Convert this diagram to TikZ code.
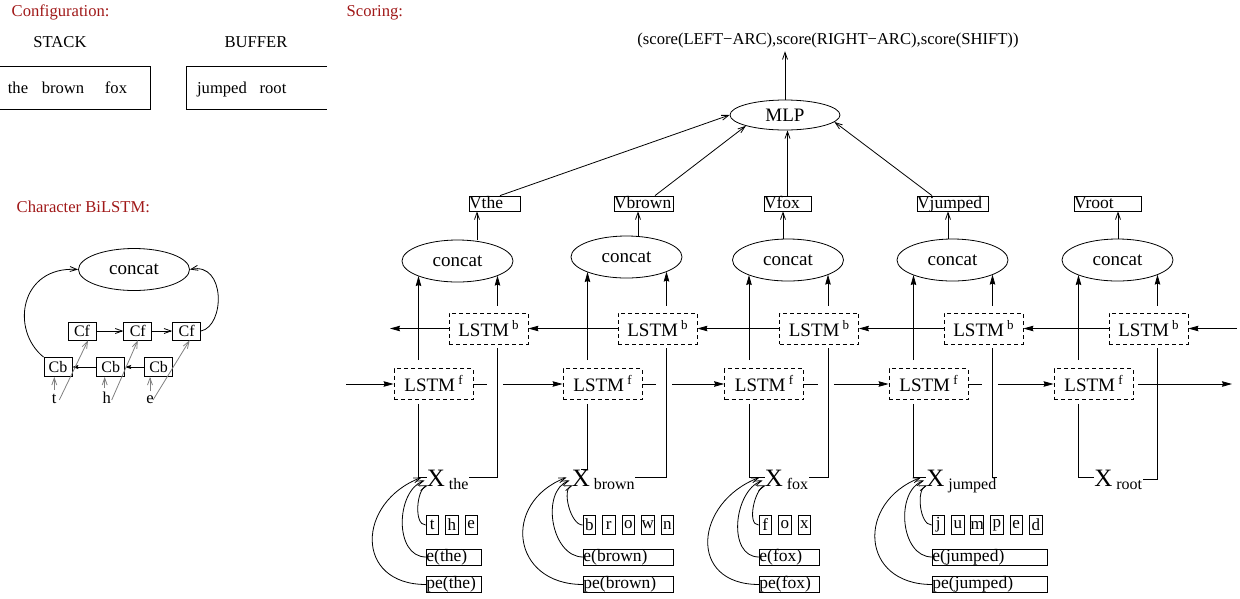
\documentclass[tikz,border=0pt]{standalone}
\usepackage{fontspec}
\setmainfont{Liberation Serif}
\usepackage{xcolor}
\usepackage{tikz}
\usetikzlibrary{arrows.meta,positioning,shapes,calc}
\definecolor{titlered}{RGB}{160,24,24}
\newcommand\fsmall{\fontsize{16.6}{19}\selectfont}
\newcommand\fword{\fontsize{17.5}{20}\selectfont}
\newcommand\fbig{\fontsize{19}{22}\selectfont}
\newcommand\fx{\fontsize{25}{25}\selectfont}
\newcommand\fsub{\fontsize{16}{18}\selectfont}
\newcommand\fsup{\fontsize{13}{14}\selectfont}
\newcommand\lstm[1]{LSTM\,\raisebox{7pt}{\fsup #1}}

\begin{document}
\begin{tikzpicture}[x=1pt,y=-1pt,line width=0.8pt,
  every node/.style={font=\fsmall},
  concat/.style={ellipse,draw,minimum width=111pt,minimum height=42pt,inner sep=0,font=\fbig},
  lstm/.style={rectangle,draw,dash pattern=on 4pt off 3pt,minimum width=79pt,minimum height=31pt,
               inner sep=0,font=\fbig},
  vbox/.style={rectangle,draw,minimum height=15pt,inner sep=0,text height=11.5pt,text depth=2pt,
               align=left,font=\fword},
  wbox/.style={rectangle,draw,minimum height=16pt,inner sep=0,text height=12pt,text depth=3.5pt,
               align=left,font=\fword},
  chr/.style={rectangle,draw,minimum width=12.5pt,minimum height=19pt,inner sep=0,font=\fontsize{17}{19}\selectfont},
  cell/.style={rectangle,draw,minimum width=28pt,minimum height=18pt,inner sep=0,font=\fontsize{16}{18}\selectfont},
  stick/.style={-{Straight Barb[length=7pt,width=5pt]}},
  head/.style={-{Stealth[length=10pt,width=5.5pt,inset=1pt]}},
  headsmall/.style={-{Stealth[length=6pt,width=4pt,inset=1pt]}},
  ttl/.style={anchor=base west,text=titlered}]
\useasboundingbox (0,0) rectangle (1240,598);

\node[ttl] (cfg) at (8,16) {Configuration:};
\node[anchor=base] (stk) at (60,47) {STACK};
\node[anchor=base] (buf) at (256,47) {BUFFER};
\draw (0,66) -| (150,109) -- (0,109);
\draw (327,66) -| (186,109) -- (327,109);
\node[anchor=base] (w1) at (18,93) {the};
\node[anchor=base] (w2) at (63,93) {brown};
\node[anchor=base] (w3) at (116,93) {fox};
\node[anchor=base] (w4) at (222,93) {jumped};
\node[anchor=base] (w5) at (273,93) {root};

\node[ttl] (chb) at (13,212) {Character BiLSTM:};
\node[concat] (cc) at (134,269.5) {concat};
\node[cell] (cf1) at (82,331) {Cf};
\node[cell,right=27pt of cf1] (cf2) {Cf};
\node[cell,right=20pt of cf2] (cf3) {Cf};
\node[cell,minimum height=19pt] (cb1) at (58,367) {Cb};
\node[cell,minimum height=19pt,right=24pt of cb1] (cb2) {Cb};
\node[cell,minimum height=19pt,right=19pt of cb2] (cb3) {Cb};
\node[anchor=base] (lt) at (54.3,403) {t};
\node[anchor=base] (lh) at (106.7,403) {h};
\node[anchor=base] (le) at (150,403) {e};
\draw[stick] (cf1) -- (cf2);
\draw[stick] (cf2) -- (cf3);
\draw[headsmall] (cb3) -- (cb2);
\draw[headsmall] (cb2) -- (cb1);
\draw[stick] (cb1.north west) .. controls (10,330) and (20,266) .. (cc.west);
\draw[stick] (cf3.east) .. controls (225,326) and (226,262) .. (cc.east);
\draw[stick,gray] (lt.north) -- (lt.north |- cb1.south);
\draw[stick,gray] ($(lt.base)+(5,-3)$) -- ($(cf1.south)+(6,0)$);
\draw[stick,gray] ($(lh.north)+(-2,0)$) -- ($(lh.north |- cb2.south)+(-2,0)$);
\draw[stick,gray] ($(lh.base)+(5,-3)$) -- (cf2.south);
\draw[stick,gray] (le.north) -- (le.north |- cb3.south);
\draw[stick,gray] ($(le.base)+(3,-3)$) -- ($(cf3.south)+(3,0)$);

\node[ttl] (scr) at (343,16) {Scoring:};
\node[anchor=base] (out) at (828,44) {(score(LEFT−ARC),score(RIGHT−ARC),score(SHIFT))};
\node[ellipse,draw,minimum width=110pt,minimum height=30pt,inner sep=0,font=\fbig] (mlp) at (785,115) {MLP};
\draw[stick] (mlp.north) -- (mlp.north |- out.south);

\foreach \i/\cx/\cy/\vc/\vw/\va/\xx/\xa/\w in {
    1/457.5/261/494.5/51/19.5/436/west/the,
    2/626.5/257/643.5/59/11.5/581/north/brown,
    3/788/260/787.5/47/-5/774/west/fox,
    4/952.5/260/952.5/71/-4.5/935.5/west/jumped,
    5/1117.5/260/1107.5/67/0.5/1103.5/west/root} {
  \node[concat] (c\i) at (\cx,\cy) {concat};
  \node[vbox,text width=\vw pt] (v\i) at (\vc,203.5) {V\w};
  \coordinate (va\i) at ($(c\i.north)+(\va,0)$);
  \draw[stick] (va\i) -- (va\i |- v\i.south);
  \node[lstm] (lb\i) at ({\cx+31},328.5) {\lstm{b}};
  \node[lstm] (lf\i) at ({\cx-24},384) {\lstm{f}};
  \draw[head] ($(lf\i.north)+(-15,-8)$) -- ($(c\i)+(-39,15)$);
  \draw[head] ($(lb\i.north)+(9,-7)$) -- ($(c\i)+(40,14.6)$);
  \node[anchor=base,font=\fx,inner sep=0] (x\i) at (\xx,486) {X};
  \node[anchor=base west,font=\fsub,inner sep=0] (s\i) at ($(x\i.base east)+(3,3)$) {\w};
  \draw ($(lf\i.south)+(-15,4)$) |- (x\i.\xa);
  \draw ($(lb\i.south)+(9,4)$) |- (s\i.north east);
}

\coordinate (fin) at (346,384);
\coordinate (fout) at (1232,384);
\coordinate (bout) at (390,328.5);
\coordinate (bin) at (1237,328.5);
\draw[head] (fin) -- (lf1.west);
\draw[head] (lf5.east) ++(5,0) -- (fout);
\draw[head] (lb1.west) -- (bout);
\draw[head] (bin) -- (lb5.east);
\foreach \i [count=\j from 2] in {1,...,4} {
  \draw (lf\i.east) -- ++(14,0);
  \draw[head] ($(lf\i.east)+(30,0)$) -- (lf\j.west);
  \draw[head] (lb\j.west) -- (lb\i.east);
}

\draw[stick] ($(v1.north)+(5.5,0)$) -- (mlp.west);
\draw[stick] ($(v2.north)+(11.5,0)$) -- (mlp.south west);
\draw[stick] (v3.north) -- (v3.north |- mlp.south);
\draw[stick] ($(v4.north)+(-20.5,0)$) -- (mlp.-8);

\foreach \i/\bx/\chars/\ew/\w in {
    1/426/{t,h,e}/55/the,
    2/583/{b,r,o,w,n}/90/brown,
    3/759/{f,o,x}/60/fox,
    4/932/{j,u,m,p,e,d}/115/jumped} {
  \foreach \c [count=\k from 0] in \chars
    \node[chr] (ch\i-\k) at ({\bx+6.25+19.5*\k},525) {\c};
  \node[wbox,text width=\ew pt,anchor=west] (e\i) at (\bx,557) {e(\w)};
  \node[wbox,text width=\ew pt,anchor=west] (pe\i) at (\bx,584.5) {pe(\w)};
  \draw[stick] (ch\i-0.west) .. controls +(-12,0) and +(-11,4) .. ($(x\i.south west)+(1,-1)$);
  \draw[stick] (e\i.west) .. controls +(-32,0) and +(-29,11) .. ($(x\i.south west)+(-2,-6)$);
  \draw[stick] (pe\i.west) .. controls +(-72,0) and +(-65,25) .. ($(x\i.south west)+(-5,-9)$);
}
\end{tikzpicture}
\end{document}
